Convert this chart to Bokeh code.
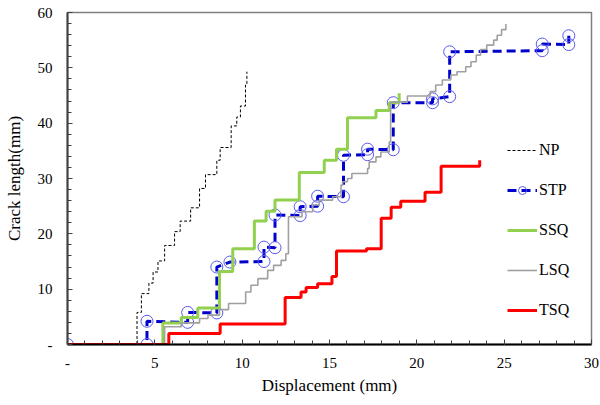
from bokeh.plotting import figure
from bokeh.models import FixedTicker, Range1d
from bokeh.embed import file_html
from bokeh.resources import INLINE

# ---- data ----
np_x = [0, 3.98, 4.23, 4.66, 4.9, 5.18, 5.56, 6.13, 6.45, 7.05, 7.56, 7.9, 8.55, 8.74, 9.37, 9.69, 9.9, 10.19, 10.27]
np_y = [0, 5.8, 9.2, 11.1, 13.1, 15.1, 17.9, 20.4, 22.3, 24.7, 28.2, 30.7, 33.3, 35.6, 39.5, 41.1, 43.1, 46.9, 49.3]

stp_x = [0, 4.55, 4.55, 6.88, 6.88, 8.55, 8.55, 9.3, 11.25, 11.25, 11.88, 11.88, 13.32, 13.32, 14.32, 14.32,
         15.8, 15.8, 17.18, 17.18, 18.65, 18.65, 20.9, 20.9, 21.88, 21.88, 27.18, 27.18, 28.7, 28.7]
stp_y = [0, 0, 4.2, 4.0, 5.8, 5.7, 14.0, 14.9, 15.0, 17.6, 17.5, 23.4, 23.3, 24.9, 25.0, 26.8,
         26.7, 34.2, 34.3, 35.3, 35.2, 43.7, 43.7, 44.4, 44.8, 52.9, 53.1, 54.3, 54.2, 55.8]

ssq_x = [0, 5.46, 6.51, 7.46, 8.7, 9.46, 10.7, 11.37, 11.88, 13.27, 14.7, 15.4, 16.03, 17.66, 18.42, 18.99]
ssq_y = [0, 3.9, 4.9, 6.6, 13.2, 17.3, 22.3, 24.1, 26.1, 31.1, 33.3, 35.3, 41.0, 42.3, 43.7, 45.4]

lsq_x = [0, 5.56, 6.51, 7.56, 8.04, 8.7, 9.22, 10.2, 10.5, 10.9, 11.46, 11.8, 12.23, 12.5, 12.65, 13.43,
         14.04, 14.42, 15.18, 15.66, 15.75, 16.03, 16.28, 17.18, 17.27, 17.66, 17.94, 18.42, 18.5, 19.46,
         20.76, 21.08, 21.46, 21.94, 22.3, 22.8, 23.1, 23.4, 23.65, 24.0, 24.4, 24.6, 24.85, 25.1]
lsq_y = [0, 3.2, 3.9, 4.7, 5.3, 6.3, 7.4, 9.5, 10.7, 11.9, 13.4, 14.3, 15.2, 16.4, 23.1, 24.0,
         25.2, 26.1, 26.7, 28.8, 29.4, 30.0, 30.9, 31.8, 33.0, 33.9, 34.8, 36.6, 43.8, 44.9,
         45.7, 46.9, 47.8, 48.7, 49.3, 50.2, 51.1, 52.3, 53.3, 54.1, 55.0, 55.9, 56.9, 57.9]

tsq_x = [0, 5.8, 8.74, 12.46, 13.37, 13.66, 14.32, 15.14, 15.4, 17.12, 17.96, 18.53, 19.08, 20.47, 21.39, 23.6]
tsq_y = [0, 2.0, 3.7, 8.5, 9.5, 10.3, 11.0, 12.3, 16.9, 17.3, 22.8, 24.8, 25.9, 27.5, 32.2, 33.3]

x_ticks = [0, 5, 10, 15, 20, 25, 30]
y_ticks = [0, 10, 20, 30, 40, 50, 60]

FONT = "Liberation Serif"

p = figure(width=600, height=405, output_backend="svg", toolbar_location=None,
           x_range=Range1d(0, 30), y_range=Range1d(0, 60),
           min_border_left=67, min_border_right=9, min_border_top=12, min_border_bottom=61)
p.background_fill_color = "white"
p.border_fill_color = "white"
p.xgrid.visible = False
p.ygrid.visible = False
p.outline_line_color = "#7f7f7f"
p.outline_line_width = 1.5

# series
p.step(np_x, np_y, mode="after", line_color="black", line_width=1, line_dash="3 2", legend_label="NP")
p.line(stp_x, stp_y, line_color="#0000CC", line_width=3, line_dash="9 5", legend_label="STP")
p.scatter(stp_x, stp_y, marker="circle", size=12, fill_alpha=0, line_color="#5A5AF0", line_width=1,
          legend_label="STP")
p.step(ssq_x, ssq_y, mode="after", line_color="#92D050", line_width=3, legend_label="SSQ")
p.step(lsq_x, lsq_y, mode="after", line_color="#A0A0A0", line_width=1.6, legend_label="LSQ")
p.step(tsq_x, tsq_y, mode="after", line_color="#FF0000", line_width=3, legend_label="TSQ")

# axes
p.xaxis.ticker = FixedTicker(ticks=x_ticks, minor_ticks=list(range(0, 31)))
p.yaxis.ticker = FixedTicker(ticks=y_ticks, minor_ticks=list(range(0, 61, 2)))
p.xaxis.major_label_overrides = {0: "-"}
p.yaxis.major_label_overrides = {0: "-"}
for ax in (p.xaxis, p.yaxis):
    ax.major_tick_in = 5
    ax.major_tick_out = 0
    ax.minor_tick_in = 4
    ax.minor_tick_out = 0
    ax.major_label_text_font = FONT
    ax.major_label_text_font_size = "15px"
    ax.major_label_text_color = "black"
    ax.axis_label_text_font = FONT
    ax.axis_label_text_font_size = "17px"
    ax.axis_label_text_font_style = "normal"
    ax.axis_label_text_color = "black"

p.xaxis.axis_label = "Displacement (mm)"
p.yaxis.axis_label = "Crack length(mm)"
p.xaxis.axis_line_color = "black"
p.xaxis.axis_line_width = 2
p.xaxis.major_tick_line_color = "#404040"
p.xaxis.minor_tick_line_color = "#404040"
p.yaxis.axis_line_color = "#404040"
p.yaxis.axis_line_width = 2
p.yaxis.major_tick_line_color = "#404040"
p.yaxis.minor_tick_line_color = "#404040"
p.xaxis.major_label_standoff = 13
p.yaxis.major_label_standoff = 15
p.xaxis.axis_label_standoff = 5
p.yaxis.axis_label_standoff = 11

# legend
lg = p.legend[0]
lg.location = (440, 24)
lg.border_line_color = None
lg.background_fill_alpha = 0
lg.padding = 0
lg.margin = 0
lg.spacing = 20
lg.glyph_width = 30
lg.glyph_height = 20
lg.label_height = 20
lg.label_standoff = 2
lg.label_text_font = FONT
lg.label_text_font_size = "16px"
lg.label_text_color = "black"

open("out.html", "w").write(file_html(p, INLINE))
